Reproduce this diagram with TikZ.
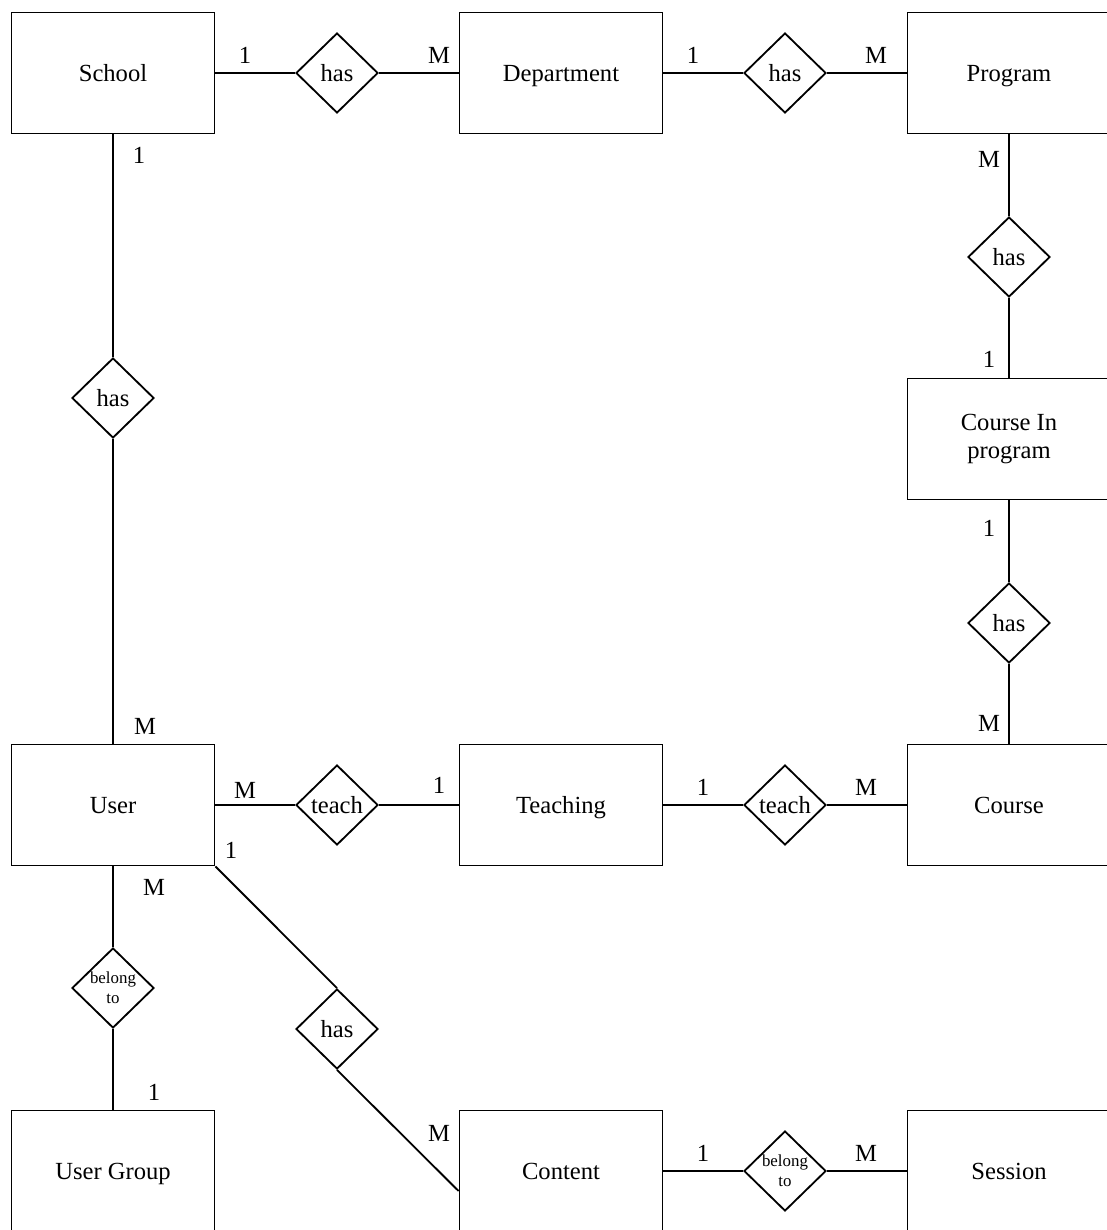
\documentclass[tikz,border=0pt]{standalone}
\usepackage{fontspec}
\setmainfont{Liberation Serif}
\usepackage{tikz}
\usetikzlibrary{shapes.geometric,calc}

\begin{document}
\begin{tikzpicture}[x=0.025cm,y=-0.025cm,line width=1.3pt,
  box/.style={draw,minimum width=5.075cm,minimum height=3.025cm,align=center,
              font=\fontsize{17.5}{19.5}\selectfont},
  entity/.style={box,text height=12.4pt,text depth=0pt},
  rel/.style={draw,shape=diamond,minimum width=2.05cm,minimum height=2cm,inner sep=0pt,
              font=\fontsize{17.5}{19.5}\selectfont},
  smalltext/.style={align=center,inner sep=0pt,font=\fontsize{12}{14}\selectfont},
  card/.style={inner sep=0pt,font=\fontsize{17.5}{19.5}\selectfont}]
\useasboundingbox (0,0) rectangle (1106,1230);

\node[entity] (school) at (113,73) {School};
\node[entity] (dept) at (561,73) {Department};
\node[entity] (prog) at (1009,73) {Program};
\node[box] (cip) at (1009,439) {Course In\\program};
\node[entity] (course) at (1009,805) {Course};
\node[entity] (user) at (113,805) {User};
\node[entity] (teaching) at (561,805) {Teaching};
\node[entity] (ugroup) at (113,1171) {User Group};
\node[entity] (content) at (561,1171) {Content};
\node[entity] (session) at (1009,1171) {Session};

\node[rel] (r1) at (337,73) {has};
\node[rel] (r2) at (785,73) {has};
\node[rel] (r3) at (1009,257) {has};
\node[rel] (r4) at (1009,623) {has};
\node[rel] (r5) at (113,398) {has};
\node[rel] (r6) at (337,805) {teach};
\node[rel] (r7) at (785,805) {teach};
\node[rel] (r8) at (113,988) {};
\node[rel] (r9) at (337,1029) {has};
\node[rel] (r10) at (785,1171) {};
\node[smalltext] (t8) at (r8) {belong\\to};
\node[smalltext] (t10) at (r10) {belong\\to};

\coordinate (cin) at ($(content.west)+(0,20)$);

\draw (school) -- (r1) -- (dept) -- (r2) -- (prog);
\draw (prog) -- (r3) -- (cip) -- (r4) -- (course);
\draw (school) -- (r5) -- (user);
\draw (user) -- (r6) -- (teaching) -- (r7) -- (course);
\draw (user) -- (r8) -- (ugroup);
\draw (user.south east) -- (r9.north);
\draw (r9.south) -- (cin);
\draw (content) -- (r10) -- (session);

\node[card] (c1) at (245,55) {1};
\node[card] (c2) at (439,55) {M};
\node[card] (c3) at (693,55) {1};
\node[card] (c4) at (876,55) {M};
\node[card] (c5) at (989,159) {M};
\node[card] (c6) at (989,359) {1};
\node[card] (c7) at (989,528) {1};
\node[card] (c8) at (989,723) {M};
\node[card] (c9) at (139,155) {1};
\node[card] (c10) at (145,726) {M};
\node[card] (c11) at (245,790) {M};
\node[card] (c12) at (439,785) {1};
\node[card] (c13) at (703,787) {1};
\node[card] (c14) at (866,787) {M};
\node[card] (c15) at (231,850) {1};
\node[card] (c16) at (154,887) {M};
\node[card] (c17) at (154,1092) {1};
\node[card] (c18) at (439,1133) {M};
\node[card] (c19) at (703,1153) {1};
\node[card] (c20) at (866,1153) {M};
\end{tikzpicture}
\end{document}
